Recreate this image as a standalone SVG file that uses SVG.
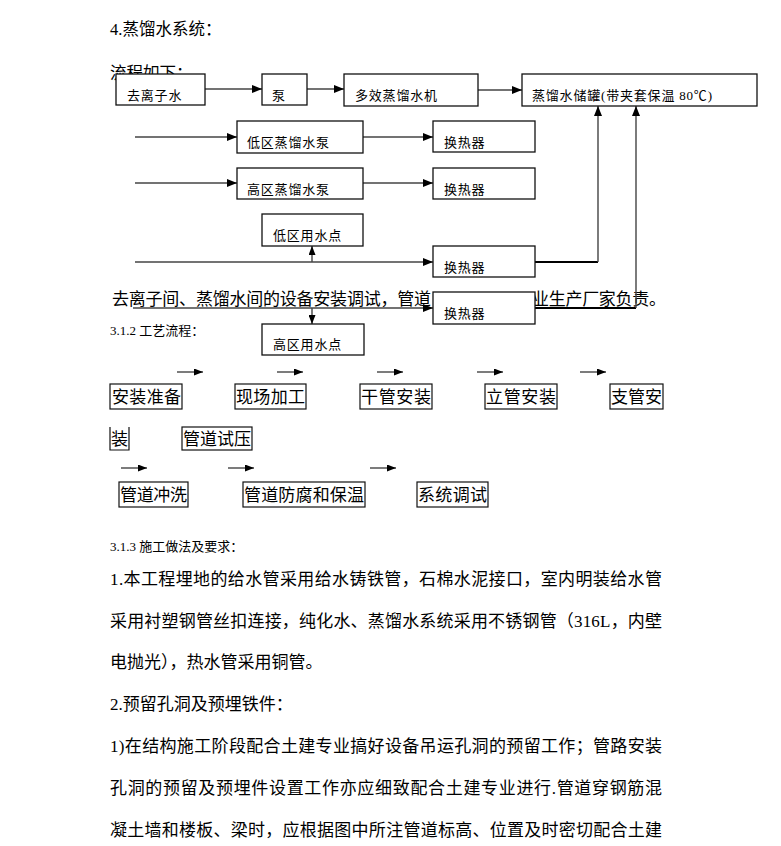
<svg xmlns="http://www.w3.org/2000/svg" width="781" height="846" viewBox="0 0 781 846">
<style>
.t{font-family:"Liberation Serif","Noto Sans CJK SC",serif;fill:#000}
.h{font-size:16.5px}
.s{font-size:13px}
.b{font-size:13px;letter-spacing:0.8px}
.p{font-size:17px}
.box{fill:#fff;stroke:#111;stroke-width:1.3}
.pbox{fill:none;stroke:#111;stroke-width:1.2}
.ln{fill:none;stroke:#444;stroke-width:1.4}
.lk{fill:none;stroke:#000;stroke-width:2}
</style>
<defs>
<marker id="ah" markerUnits="userSpaceOnUse" markerWidth="10" markerHeight="8" refX="10" refY="4" orient="auto">
<path d="M0,0 L10,4 L0,8 z" fill="#000"/>
</marker>
<marker id="as" markerUnits="userSpaceOnUse" markerWidth="9" markerHeight="7" refX="9" refY="3.5" orient="auto">
<path d="M0,0 L9,3.5 L0,7 z" fill="#000"/>
</marker>
</defs>
<rect width="781" height="846" fill="#fff"/>

<g id="paragraphs">
<text class="t h" x="110" y="35">4.蒸馏水系统：</text>
<text class="t h" x="110" y="79">流程如下：</text>
<text class="t p" x="112" y="305" textLength="319" lengthAdjust="spacing">去离子间、蒸馏水间的设备安装调试，管道</text>
<text class="t p" x="532" y="305" textLength="134" lengthAdjust="spacing">业生产厂家负责。</text>
<text class="t s" x="110" y="335">3.1.2 工艺流程：</text>
</g>

<g id="connectors">
<line class="ln" x1="205" y1="89" x2="262" y2="89" marker-end="url(#ah)"/>
<line class="ln" x1="307" y1="89" x2="344" y2="89" marker-end="url(#ah)"/>
<line class="ln" x1="478" y1="90" x2="522" y2="90" marker-end="url(#ah)"/>
<line class="ln" x1="135" y1="137" x2="237" y2="137" marker-end="url(#ah)"/>
<line class="ln" x1="363" y1="137" x2="433" y2="137" marker-end="url(#ah)"/>
<line class="ln" x1="135" y1="183" x2="237" y2="183" marker-end="url(#ah)"/>
<line class="ln" x1="363" y1="183" x2="433" y2="183" marker-end="url(#ah)"/>
<line class="ln" x1="135" y1="262" x2="433" y2="262" marker-end="url(#ah)"/>
<line class="ln" x1="312" y1="262" x2="312" y2="246" marker-end="url(#as)"/>
<path class="lk" d="M535,262 H598"/>
<path class="ln" d="M598,262 V106" marker-end="url(#ah)"/>
<line class="ln" x1="133" y1="308" x2="433" y2="308" marker-end="url(#ah)"/>
<line class="ln" x1="312" y1="308" x2="312" y2="324" marker-end="url(#as)"/>
<path class="lk" d="M535,308 H636"/>
<path class="ln" d="M636,308 V106" marker-end="url(#ah)"/>
</g>

<g id="n-quliziishui"><rect class="box" x="116" y="74" width="89" height="31"/><text class="t b" x="127" y="100">去离子水</text></g>
<g id="n-beng"><rect class="box" x="262" y="74" width="45" height="31"/><text class="t b" x="272" y="100">泵</text></g>
<g id="n-duoxiao"><rect class="box" x="344" y="74" width="134" height="32"/><text class="t b" x="355" y="100">多效蒸馏水机</text></g>
<g id="n-chuguan"><rect class="box" x="522" y="74" width="235" height="32"/><text class="t" x="532" y="100" font-size="13" textLength="180" lengthAdjust="spacing">蒸馏水储罐(带夹套保温 80℃)</text></g>
<g id="n-diqubeng"><rect class="box" x="237" y="121" width="126" height="32"/><text class="t b" x="247" y="147">低区蒸馏水泵</text></g>
<g id="n-hrq1"><rect class="box" x="433" y="121" width="102" height="31"/><text class="t b" x="444" y="147">换热器</text></g>
<g id="n-gaoqubeng"><rect class="box" x="237" y="168" width="126" height="31"/><text class="t b" x="247" y="194">高区蒸馏水泵</text></g>
<g id="n-hrq2"><rect class="box" x="433" y="168" width="102" height="31"/><text class="t b" x="444" y="194">换热器</text></g>
<g id="n-diquyong"><rect class="box" x="262" y="214" width="101" height="32"/><text class="t b" x="273" y="240">低区用水点</text></g>
<g id="n-hrq3"><rect class="box" x="433" y="246" width="102" height="31"/><text class="t b" x="444" y="272">换热器</text></g>
<g id="n-hrq4"><rect class="box" x="433" y="292" width="102" height="32"/><text class="t b" x="444" y="318">换热器</text></g>
<g id="n-gaoquyong"><rect class="box" x="262" y="324" width="102" height="31"/><text class="t b" x="273" y="349">高区用水点</text></g>

<g id="process-arrows">
<line class="ln" x1="177" y1="372" x2="203" y2="372" marker-end="url(#as)"/>
<line class="ln" x1="277" y1="372" x2="303" y2="372" marker-end="url(#as)"/>
<line class="ln" x1="377" y1="372" x2="403" y2="372" marker-end="url(#as)"/>
<line class="ln" x1="477" y1="372" x2="503" y2="372" marker-end="url(#as)"/>
<line class="ln" x1="580" y1="372" x2="606" y2="372" marker-end="url(#as)"/>
<line class="ln" x1="121" y1="468" x2="147" y2="468" marker-end="url(#as)"/>
<line class="ln" x1="228" y1="468" x2="254" y2="468" marker-end="url(#as)"/>
<line class="ln" x1="370" y1="468" x2="396" y2="468" marker-end="url(#as)"/>
</g>

<g id="p-anzhuangzhunbei"><rect class="pbox" x="110" y="384" width="72" height="25"/><text class="t p" x="112" y="403" textLength="69" lengthAdjust="spacing">安装准备</text></g>
<g id="p-xianchang"><rect class="pbox" x="235" y="384" width="71" height="25"/><text class="t p" x="236" y="403" textLength="69" lengthAdjust="spacing">现场加工</text></g>
<g id="p-ganguan"><rect class="pbox" x="360" y="384" width="72" height="25"/><text class="t p" x="361" y="403" textLength="70" lengthAdjust="spacing">干管安装</text></g>
<g id="p-liguan"><rect class="pbox" x="485" y="384" width="72" height="25"/><text class="t p" x="486" y="403" textLength="70" lengthAdjust="spacing">立管安装</text></g>
<g id="p-zhiguan"><rect class="pbox" x="610" y="384" width="53" height="25"/><text class="t p" x="611" y="403" textLength="51" lengthAdjust="spacing">支管安</text>
<path class="pbox" d="M110,427 V450 H129 V427"/><text class="t p" x="111" y="445">装</text></g>
<g id="p-shiya"><rect class="pbox" x="182" y="427" width="70" height="23"/><text class="t p" x="183" y="445" textLength="68" lengthAdjust="spacing">管道试压</text></g>
<g id="p-chongxi"><rect class="pbox" x="119" y="482" width="69" height="25"/><text class="t p" x="120" y="501" textLength="67" lengthAdjust="spacing">管道冲洗</text></g>
<g id="p-fangfu"><rect class="pbox" x="243" y="482" width="122" height="25"/><text class="t p" x="244" y="501" textLength="120" lengthAdjust="spacing">管道防腐和保温</text></g>
<g id="p-tiaoshi"><rect class="pbox" x="417" y="482" width="71" height="25"/><text class="t p" x="418" y="501" textLength="69" lengthAdjust="spacing">系统调试</text></g>

<g id="body-text">
<text class="t s" x="110" y="551">3.1.3 施工做法及要求：</text>
<text class="t p" x="110" y="585" textLength="552" lengthAdjust="spacing">1.本工程埋地的给水管采用给水铸铁管，石棉水泥接口，室内明装给水管</text>
<text class="t p" x="110" y="627" textLength="552" lengthAdjust="spacing">采用衬塑钢管丝扣连接，纯化水、蒸馏水系统采用不锈钢管（316L，内壁</text>
<text class="t p" x="110" y="668">电抛光），热水管采用铜管。</text>
<text class="t p" x="110" y="710">2.预留孔洞及预埋铁件：</text>
<text class="t p" x="110" y="752" textLength="552" lengthAdjust="spacing">1)在结构施工阶段配合土建专业搞好设备吊运孔洞的预留工作；管路安装</text>
<text class="t p" x="110" y="794" textLength="552" lengthAdjust="spacing">孔洞的预留及预埋件设置工作亦应细致配合土建专业进行.管道穿钢筋混</text>
<text class="t p" x="110" y="836" textLength="552" lengthAdjust="spacing">凝土墙和楼板、梁时，应根据图中所注管道标高、位置及时密切配合土建</text>
</g>
</svg>
